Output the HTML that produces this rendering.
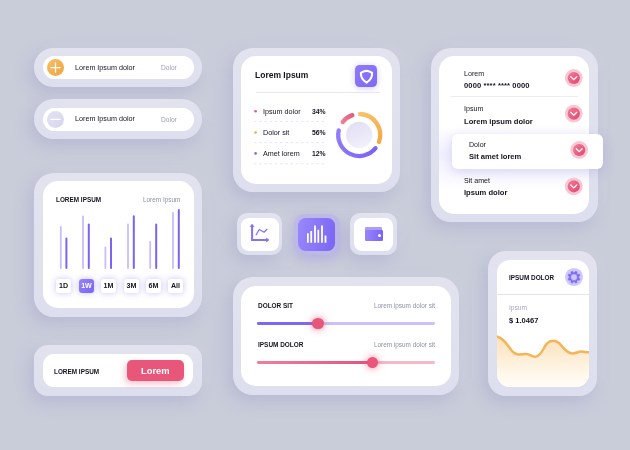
<!DOCTYPE html>
<html><head><meta charset="utf-8">
<style>
*{box-sizing:border-box;margin:0;padding:0}
html,body{width:630px;height:450px;overflow:hidden}
body{background:#c9ccd9;font-family:"Liberation Sans",sans-serif;color:#13131f;position:relative}
.o{position:absolute;background:linear-gradient(180deg,#e2e3ef,#dedfee);box-shadow:-4px 6px 16px rgba(145,145,200,.32),5px -4px 12px rgba(255,255,255,.1)}
.i{position:absolute;background:#fff}
.t{position:absolute;white-space:nowrap;line-height:1;will-change:transform}
.b{font-weight:bold}
.g{color:#8c90a8}
.a{position:absolute}
svg{position:absolute;left:0;top:0;overflow:visible}
.tb{position:absolute;top:279.2px;width:15px;height:13.6px;border-radius:3px;background:#fff;box-shadow:0 0 6px rgba(123,104,238,.42);font-size:7.1px;font-weight:bold;text-align:center;line-height:15.6px;will-change:transform}
</style></head><body>

<!-- pill 1 -->
<div class="o" style="left:34.2px;top:47.5px;width:167.5px;height:39.7px;border-radius:20px"></div>
<div class="i" style="left:42.5px;top:55.8px;width:151px;height:23px;border-radius:12px"></div>
<div class="a" style="left:46.8px;top:58.8px;width:17.4px;height:17.4px;border-radius:50%;background:linear-gradient(135deg,#f8c069,#efa23c)"></div>
<svg width="630" height="450"><path d="M55.5 62.8v9.4M50.8 67.5h9.4" stroke="#fff" stroke-width="1.25" fill="none" stroke-linecap="round"/></svg>
<div class="t" style="left:74.5px;top:63.6px;font-size:7.2px">Lorem Ipsum dolor</div>
<div class="t g" style="left:161px;top:64.8px;font-size:6.6px;color:#989cb4">Dolor</div>

<!-- pill 2 -->
<div class="o" style="left:34.2px;top:99.3px;width:167.5px;height:39.7px;border-radius:20px"></div>
<div class="i" style="left:42.5px;top:107.6px;width:151px;height:23px;border-radius:12px"></div>
<div class="a" style="left:46.8px;top:110.6px;width:17.4px;height:17.4px;border-radius:50%;background:linear-gradient(135deg,#e4e3f5,#d6d5ee)"></div>
<svg width="630" height="450"><path d="M50.8 119.3h9.4" stroke="#fff" stroke-width="1.25" fill="none" stroke-linecap="round"/></svg>
<div class="t" style="left:74.5px;top:115.4px;font-size:7.2px">Lorem Ipsum dolor</div>
<div class="t g" style="left:161px;top:116.6px;font-size:6.6px;color:#989cb4">Dolor</div>

<!-- chart card -->
<div class="o" style="left:34.2px;top:172.5px;width:167.5px;height:144.5px;border-radius:20px"></div>
<div class="i" style="left:42.5px;top:180.8px;width:151px;height:127.6px;border-radius:15px"></div>
<div class="t b" style="left:56.2px;top:197px;font-size:6.4px">LOREM IPSUM</div>
<div class="t g" style="left:142.5px;top:197px;font-size:6.4px">Lorem Ipsum</div>
<svg width="630" height="450">
<g stroke-linecap="round">
<path stroke-width="1.8" stroke="#c7bffb" d="M60.8 227V268M83 216.3V268M105.4 247.5V268M128 224.5V268M150.2 242V268M173 213V268"/>
<path stroke-width="2" stroke="#7a64f2" d="M66.4 238.6V268M88.8 224.5V268M111 238.6V268M133.8 216.3V268M156.2 224.5V268M178.8 210V268"/>
</g>
</svg>
<div class="tb" style="left:56.3px">1D</div>
<div class="tb" style="left:78.8px;background:linear-gradient(135deg,#9585fa,#7a64f2);color:#fff">1W</div>
<div class="tb" style="left:101.2px">1M</div>
<div class="tb" style="left:123.6px">3M</div>
<div class="tb" style="left:146px">6M</div>
<div class="tb" style="left:168.4px">All</div>

<!-- button card -->
<div class="o" style="left:34.2px;top:345.3px;width:167.5px;height:50.5px;border-radius:14px"></div>
<div class="i" style="left:42.5px;top:353.8px;width:150.6px;height:33.7px;border-radius:11px"></div>
<div class="t b" style="left:54.2px;top:368.6px;font-size:6.4px">LOREM IPSUM</div>
<div class="a" style="left:127px;top:360.4px;width:56.8px;height:20.8px;border-radius:5px;background:#e8567a;box-shadow:-2px 3px 6px rgba(232,86,122,.35)"></div>
<div class="t b" style="left:140.5px;top:365.6px;font-size:9.4px;color:#fff">Lorem</div>

<!-- donut card -->
<div class="o" style="left:232.5px;top:47.5px;width:167.6px;height:144.4px;border-radius:20px"></div>
<div class="i" style="left:240.9px;top:55.8px;width:151px;height:127.8px;border-radius:15px"></div>
<div class="t b" style="left:255px;top:71.2px;font-size:8.5px">Lorem Ipsum</div>
<div class="a" style="left:354.9px;top:65.1px;width:22.5px;height:21.9px;border-radius:4.5px;background:linear-gradient(135deg,#8d7bf9,#7e69f6);box-shadow:0 1px 6px rgba(123,104,238,.35)"></div>
<svg width="630" height="450"><path d="M360.9 72.9Q363.4 71.2 366.5 70.7Q369.6 71.2 372.1 72.9Q372.4 78.9 366.5 82.6Q360.6 78.9 360.9 72.9Z" fill="none" stroke="#fff" stroke-width="2.1" stroke-linejoin="round"/></svg>
<div class="a" style="left:255.8px;top:91.8px;width:124.6px;height:1px;background:#e6e6f7"></div>

<svg width="630" height="450">
<circle cx="255.6" cy="111.3" r="1.3" fill="#e8567a"/>
<circle cx="255.6" cy="132.5" r="1.3" fill="#f5a742"/>
<circle cx="255.6" cy="153.4" r="1.3" fill="#7a64f2"/>
<g stroke="#e6e6f8" stroke-width="1" stroke-dasharray="2.6 2.6">
<path d="M254 121.4H326M254 142.6H326M254 163.8H326"/>
</g>
</svg>
<div class="t" style="left:263.3px;top:107.6px;font-size:7.2px">Ipsum dolor</div>
<div class="t" style="left:263.3px;top:128.8px;font-size:7.2px">Dolor sit</div>
<div class="t" style="left:263.3px;top:149.7px;font-size:7.2px">Amet lorem</div>
<div class="t b" style="left:312.2px;top:108.8px;font-size:6.8px">34%</div>
<div class="t b" style="left:312.2px;top:130px;font-size:6.8px">56%</div>
<div class="t b" style="left:312.2px;top:150.9px;font-size:6.8px">12%</div>
<svg width="630" height="450">
<defs><linearGradient id="dg" x1=".3" y1="0" x2=".7" y2="1"><stop offset="0" stop-color="#e1dff3"/><stop offset="1" stop-color="#f2f1fc"/></linearGradient><linearGradient id="ag" gradientUnits="userSpaceOnUse" x1="359" y1="112" x2="380" y2="148"><stop offset="0" stop-color="#f8c26c"/><stop offset="1" stop-color="#f3a640"/></linearGradient><linearGradient id="kg" gradientUnits="userSpaceOnUse" x1="340" y1="125" x2="354" y2="113"><stop offset="0" stop-color="#f08aa0"/><stop offset="1" stop-color="#e3567a"/></linearGradient>
<linearGradient id="pg" gradientUnits="userSpaceOnUse" x1="338" y1="128" x2="378" y2="150"><stop offset="0" stop-color="#917ffa"/><stop offset="1" stop-color="#7a64f4"/></linearGradient></defs>
<circle cx="359.2" cy="135" r="13.2" fill="url(#dg)"/>
<g fill="none" stroke-width="4.3" stroke-linecap="round">
<path d="M360.12 114.02A21.0 21.0 0 0 1 379.00 142.01" stroke="url(#ag)"/>
<path d="M375.52 148.22A21.0 21.0 0 0 1 338.70 130.45" stroke="url(#pg)"/>
<path d="M342.65 122.07A21.0 21.0 0 0 1 352.36 115.14" stroke="url(#kg)"/>
</g></svg>

<!-- icon buttons -->
<div class="o" style="left:236.7px;top:213.4px;width:45.8px;height:41.3px;border-radius:10px"></div>
<div class="i" style="left:240.9px;top:217.6px;width:38.2px;height:33.3px;border-radius:8px"></div>
<div class="a" style="left:293.9px;top:213.5px;width:45.7px;height:41.5px;border-radius:10px;background:#bdb9e5;box-shadow:0 4px 12px rgba(123,104,238,.28)"></div>
<div class="a" style="left:297.8px;top:217.6px;width:37.7px;height:33.4px;border-radius:7.5px;background:linear-gradient(100deg,#9888fb,#7b65f5)"></div>
<div class="o" style="left:350.1px;top:213.4px;width:46.6px;height:41.3px;border-radius:10px"></div>
<div class="i" style="left:354.4px;top:217.6px;width:38.3px;height:33.3px;border-radius:8px"></div>
<svg width="630" height="450">
<g fill="none" stroke="#8571f6" stroke-width="2" stroke-linecap="butt" stroke-linejoin="miter">
<path d="M252.1 226V239.9H267"/>
<path d="M256.2 234.7L259.2 229.5L264.1 232.2L266.9 229.3" stroke-width="1.25" stroke-linecap="round" stroke-linejoin="round"/>
</g>
<path d="M250.1 226.7L252.1 224L254.1 226.7ZM266.5 237.9L269.1 239.9L266.5 241.9Z" fill="#8571f6" stroke="#8571f6" stroke-width=".5" stroke-linejoin="round"/>
<g stroke="#fff" stroke-width="1.8">
<path d="M307.9 233.2V242.8M311.2 231V242.8M315 225.5V242.8M318.3 229.7V242.8M322 225.5V242.8M325.5 235.5V242.8"/>
</g>
</svg>
<div class="a" style="left:365.3px;top:227px;width:16.6px;height:5px;border-radius:1.3px;background:#aa9efa"></div>
<div class="a" style="left:365.1px;top:229.7px;width:17.7px;height:11.3px;border-radius:1.3px;background:linear-gradient(90deg,#9686fa,#7a63f5)"></div>
<div class="a" style="left:378.1px;top:233.8px;width:3.4px;height:3.4px;border-radius:50%;background:#fff"></div>

<!-- slider card -->
<div class="o" style="left:232.5px;top:277px;width:226.7px;height:117.5px;border-radius:20px"></div>
<div class="i" style="left:241.2px;top:285.5px;width:209.4px;height:100.7px;border-radius:15px"></div>
<div class="t b" style="left:257.7px;top:303.4px;font-size:6.45px">DOLOR SIT</div>
<div class="t g" style="left:374.2px;top:303.4px;font-size:6.4px">Lorem ipsum dolor sit</div>
<div class="a" style="left:256.7px;top:321.8px;width:178.6px;height:2.8px;border-radius:1.4px;background:#c9c2fb"></div>
<div class="a" style="left:256.7px;top:321.8px;width:62px;height:2.8px;border-radius:1.4px;background:#7c68f6"></div>
<div class="a" style="left:312.2px;top:317.5px;width:11.4px;height:11.4px;border-radius:50%;background:#e8567a;box-shadow:0 0 7px 1px rgba(232,86,122,.55)"></div>
<div class="t b" style="left:257.7px;top:341.6px;font-size:6.45px">IPSUM DOLOR</div>
<div class="t g" style="left:374.2px;top:341.6px;font-size:6.4px">Lorem ipsum dolor sit</div>
<div class="a" style="left:256.7px;top:360.9px;width:178.6px;height:2.8px;border-radius:1.4px;background:#f6b7c7"></div>
<div class="a" style="left:256.7px;top:360.9px;width:117px;height:2.8px;border-radius:1.4px;background:linear-gradient(90deg,#ef7f9b,#e5527a)"></div>
<div class="a" style="left:367.1px;top:356.6px;width:11.4px;height:11.4px;border-radius:50%;background:#e8567a;box-shadow:0 0 7px 1px rgba(232,86,122,.55)"></div>

<!-- list card -->
<div class="o" style="left:430.5px;top:47.5px;width:167.3px;height:174.7px;border-radius:20px"></div>
<div class="i" style="left:438.7px;top:55.8px;width:150.8px;height:157.9px;border-radius:15px;background:linear-gradient(180deg,#fff 45%,#f1f0fd 62%,#fff 85%)"></div>
<div class="t" style="left:463.8px;top:71px;font-size:7.1px">Lorem</div>
<div class="t b" style="left:463.8px;top:82.4px;font-size:7.6px;letter-spacing:.1px">0000 **** **** 0000</div>
<div class="a" style="left:450px;top:95.5px;width:128.3px;height:1.3px;background:#ececf8"></div>
<div class="t" style="left:463.8px;top:105.9px;font-size:7.1px">Ipsum</div>
<div class="t b" style="left:463.8px;top:118.2px;font-size:7.6px">Lorem ipsum dolor</div>
<div class="a" style="left:451.7px;top:133.7px;width:151.1px;height:35.1px;border-radius:6px;background:#fff;box-shadow:0 3px 12px rgba(120,110,220,.25)"></div>
<div class="t" style="left:468.8px;top:142px;font-size:7.1px">Dolor</div>
<div class="t b" style="left:468.8px;top:152.8px;font-size:7.6px">Sit amet lorem</div>
<div class="t" style="left:463.8px;top:178px;font-size:7.1px">Sit amet</div>
<div class="t b" style="left:463.8px;top:189.4px;font-size:7.6px">Ipsum dolor</div>
<svg width="630" height="450">
<defs><linearGradient id="pk" x1="0" y1="0" x2="1" y2="1"><stop offset="0" stop-color="#f17c98"/><stop offset="1" stop-color="#e24670"/></linearGradient>
</defs>
<g transform="translate(573.8 78)"><circle r="8.9" fill="#f8c7d3"/><circle r="6.1" fill="url(#pk)"/><path d="M-3 -1.3L0 1.6L3 -1.3" fill="none" stroke="#fff" stroke-width="1.25" stroke-linecap="round" stroke-linejoin="round"/></g>
<g transform="translate(573.8 113.6)"><circle r="8.9" fill="#f8c7d3"/><circle r="6.1" fill="url(#pk)"/><path d="M-3 -1.3L0 1.6L3 -1.3" fill="none" stroke="#fff" stroke-width="1.25" stroke-linecap="round" stroke-linejoin="round"/></g>
<g transform="translate(579.2 150)"><circle r="8.9" fill="#f8c7d3"/><circle r="6.1" fill="url(#pk)"/><path d="M-3 -1.3L0 1.6L3 -1.3" fill="none" stroke="#fff" stroke-width="1.25" stroke-linecap="round" stroke-linejoin="round"/></g>
<g transform="translate(573.8 186.3)"><circle r="8.9" fill="#f8c7d3"/><circle r="6.1" fill="url(#pk)"/><path d="M-3 -1.3L0 1.6L3 -1.3" fill="none" stroke="#fff" stroke-width="1.25" stroke-linecap="round" stroke-linejoin="round"/></g>
</svg>

<!-- ipsum dolor card -->
<div class="o" style="left:488.3px;top:251.3px;width:109px;height:144.8px;border-radius:18px"></div>
<div class="i" style="left:497px;top:260px;width:91.7px;height:127.4px;border-radius:13px;overflow:hidden">
<svg width="92" height="128" viewBox="497 260 92 128" style="left:0;top:0">
<defs><linearGradient id="og" gradientUnits="userSpaceOnUse" x1="0" y1="338" x2="0" y2="388"><stop offset="0" stop-color="#fbe2bd"/><stop offset=".75" stop-color="#fff8ec"/><stop offset="1" stop-color="#fffdf9"/></linearGradient></defs>
<path id="cv" d="M496 336.4C504 338 507 345 512.3 351.3C516 355.5 521 354.6 526 354C530 353.6 532 357.6 536 356.6C542 355.2 543.5 347 547 343.5C550.5 339.8 555.5 339.6 559.5 343.5C563 347 566 352.8 572 353.4C576 353.8 578 351.4 582 351.6C585 351.8 587 352.3 590 352.2V390H496Z" fill="url(#og)"/>
<path d="M496 336.4C504 338 507 345 512.3 351.3C516 355.5 521 354.6 526 354C530 353.6 532 357.6 536 356.6C542 355.2 543.5 347 547 343.5C550.5 339.8 555.5 339.6 559.5 343.5C563 347 566 352.8 572 353.4C576 353.8 578 351.4 582 351.6C585 351.8 587 352.3 590 352.2" fill="none" stroke="#f5b556" stroke-width="2.5"/>
</svg>
</div>
<div class="t b" style="left:508.8px;top:274.5px;font-size:6.4px">IPSUM DOLOR</div>
<div class="a" style="left:564.9px;top:268.2px;width:17.8px;height:17.8px;border-radius:50%;background:#cfc8fc"></div>
<svg width="630" height="450"><path fill-rule="evenodd" fill="#7f6af5" stroke="#7f6af5" stroke-width=".6" stroke-linejoin="round" d="M574.78 272.56L575.48 271.28L577.14 271.97L576.73 273.37L577.83 274.47L579.23 274.06L579.92 275.72L578.64 276.42L578.64 277.98L579.92 278.68L579.23 280.34L577.83 279.93L576.73 281.03L577.14 282.43L575.48 283.12L574.78 281.84L573.22 281.84L572.52 283.12L570.86 282.43L571.27 281.03L570.17 279.93L568.77 280.34L568.08 278.68L569.36 277.98L569.36 276.42L568.08 275.72L568.77 274.06L570.17 274.47L571.27 273.37L570.86 271.97L572.52 271.28L573.22 272.56ZM570.65 277.2a3.35 3.35 0 1 0 6.7 0a3.35 3.35 0 1 0 -6.7 0Z"/></svg>
<div class="a" style="left:497px;top:293.6px;width:91.7px;height:1px;background:#e2e1f6"></div>
<div class="t" style="left:508.8px;top:304.6px;font-size:6.6px;color:#a6a9c2">Ipsum</div>
<div class="t b" style="left:508.9px;top:316.8px;font-size:7.55px">$ 1.0467</div>

</body></html>
